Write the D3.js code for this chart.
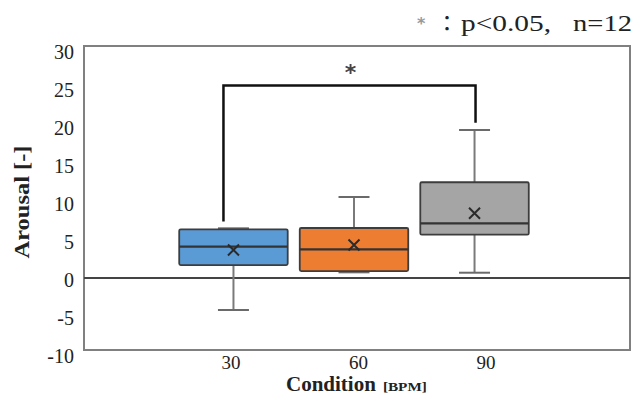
<!DOCTYPE html>
<html>
<head>
<meta charset="utf-8">
<script src="https://cdn.jsdelivr.net/npm/d3@7"></script>
<style>
  body { margin: 0; background: #fff; }
  svg { display: block; }
</style>
</head>
<body>
<div id="chart"></div>
<script>
// conditions and box plot statistics
const conditions = ["30", "60", "90"];
const boxColors = ["#5b9bd5", "#ed7d31", "#a5a5a5"];
const whiskerLow = [-4.74, 0.22, 0.17];
const q1 = [1.18, 0.39, 5.17];
const median = [3.59, 3.25, 6.67];
const q3 = [5.88, 6.05, 12.07];
const whiskerHigh = [6.01, 10.13, 18.95];
const means = [3.16, 3.82, 7.99];
const yTicks = [-10, -5, 0, 5, 10, 15, 20, 25, 30];

// significance bracket between 30 and 90 BPM
const bracketTop = 24.8;
const bracketLeftEnd = 6.9;
const bracketRightEnd = 19.9;

const serif = "'Times New Roman', 'Liberation Serif', serif";
const width = 635, height = 398;
const margin = {top: 46, right: 5, bottom: 48, left: 84};

const svg = d3.select("#chart").append("svg")
    .attr("width", width)
    .attr("height", height)
    .style("font-family", serif);

const y = d3.scaleLinear()
    .domain([-10, 30])
    .range([height - margin.bottom, margin.top]);

// boxes and tick labels are placed slightly differently in the original
const xBox = d3.scalePoint()
    .domain(conditions)
    .range([margin.left, width - margin.right - 6])
    .padding(1.24);

const xLabel = d3.scalePoint()
    .domain(conditions)
    .range([margin.left + 3, width - margin.right])
    .padding(1.13);

const boxW = xBox.step() * 0.9;
const capW = 31;

// plot frame
svg.append("rect")
    .attr("x", margin.left)
    .attr("y", margin.top)
    .attr("width", width - margin.right - margin.left)
    .attr("height", height - margin.bottom - margin.top)
    .attr("fill", "none")
    .attr("stroke", "#808080")
    .attr("stroke-width", 2);

// y axis labels
const yAxis = svg.append("g")
    .attr("transform", `translate(${margin.left},0)`)
    .call(d3.axisLeft(y).tickValues(yTicks).tickSize(0).tickPadding(10)
        .tickFormat(d => String(d)));
yAxis.attr("font-family", null).attr("font-size", null);
yAxis.select(".domain").remove();
yAxis.selectAll("text")
    .attr("dy", "0.62em")
    .attr("fill", "#222")
    .style("font-family", serif)
    .style("font-size", "20px");

// horizontal axis line near 0
svg.append("line")
    .attr("x1", margin.left)
    .attr("x2", width - margin.right)
    .attr("y1", y(0) + 4)
    .attr("y2", y(0) + 4)
    .attr("stroke", "#444")
    .attr("stroke-width", 2);

// x tick labels
svg.append("g")
    .selectAll("text")
    .data(conditions)
    .join("text")
    .attr("x", d => xLabel(d))
    .attr("y", height - margin.bottom + 19)
    .attr("text-anchor", "middle")
    .attr("fill", "#222")
    .style("font-size", "19px")
    .text(d => d);

// boxes
const box = svg.append("g")
    .selectAll("g")
    .data(conditions)
    .join("g");

box.append("line")
    .attr("x1", d => xBox(d))
    .attr("x2", d => xBox(d))
    .attr("y1", (d, i) => y(whiskerLow[i]))
    .attr("y2", (d, i) => y(q1[i]))
    .attr("stroke", "#7a7a7a")
    .attr("stroke-width", 2);

box.append("line")
    .attr("x1", d => xBox(d))
    .attr("x2", d => xBox(d))
    .attr("y1", (d, i) => y(whiskerHigh[i]))
    .attr("y2", (d, i) => y(q3[i]))
    .attr("stroke", "#7a7a7a")
    .attr("stroke-width", 2);

box.append("line")
    .attr("x1", d => xBox(d) - capW / 2)
    .attr("x2", d => xBox(d) + capW / 2)
    .attr("y1", (d, i) => y(whiskerLow[i]))
    .attr("y2", (d, i) => y(whiskerLow[i]))
    .attr("stroke", "#6a6a6a")
    .attr("stroke-width", 2);

box.append("line")
    .attr("x1", d => xBox(d) - capW / 2)
    .attr("x2", d => xBox(d) + capW / 2)
    .attr("y1", (d, i) => y(whiskerHigh[i]))
    .attr("y2", (d, i) => y(whiskerHigh[i]))
    .attr("stroke", "#6a6a6a")
    .attr("stroke-width", 2);

box.append("rect")
    .attr("x", d => xBox(d) - boxW / 2)
    .attr("y", (d, i) => y(q3[i]))
    .attr("width", boxW)
    .attr("height", (d, i) => y(q1[i]) - y(q3[i]))
    .attr("rx", 1.5)
    .attr("fill", (d, i) => boxColors[i])
    .attr("stroke", "#3d3d3d")
    .attr("stroke-width", 1.8);

box.append("line")
    .attr("x1", d => xBox(d) - boxW / 2)
    .attr("x2", d => xBox(d) + boxW / 2)
    .attr("y1", (d, i) => y(median[i]))
    .attr("y2", (d, i) => y(median[i]))
    .attr("stroke", "#333")
    .attr("stroke-width", 2.2);

// mean markers
const m = 5.5;
box.append("path")
    .attr("d", (d, i) => {
        const cx = xBox(d), cy = y(means[i]);
        return `M${cx - m},${cy - m}L${cx + m},${cy + m}M${cx - m},${cy + m}L${cx + m},${cy - m}`;
    })
    .attr("stroke", "#2a2a2a")
    .attr("stroke-width", 2)
    .attr("fill", "none");

// significance bracket
const bx1 = xBox("30") - 10, bx2 = xBox("90") + 1;
svg.append("path")
    .attr("d", `M${bx1},${y(bracketLeftEnd)}V${y(bracketTop)}H${bx2}V${y(bracketRightEnd)}`)
    .attr("fill", "none")
    .attr("stroke", "#111")
    .attr("stroke-width", 2.5);

svg.append("text")
    .attr("x", (bx1 + bx2) / 2 + 1)
    .attr("y", y(bracketTop) - 6)
    .attr("text-anchor", "middle")
    .style("font-family", "DejaVu Sans")
    .style("font-size", "22px")
    .style("font-weight", "bold")
    .style("fill", "#444")
    .text("*");

// note in the top right
svg.append("text")
    .attr("x", 417)
    .attr("y", 29)
    .style("font-family", "DejaVu Sans")
    .style("font-size", "16px")
    .style("font-weight", "bold")
    .style("fill", "#999")
    .text("*");
svg.append("text")
    .attr("x", 436)
    .attr("y", 31)
    .attr("fill", "#222")
    .style("font-family", "Noto Sans CJK JP")
    .style("font-size", "22px")
    .text("：");
svg.append("text")
    .attr("x", 461)
    .attr("y", 31)
    .attr("fill", "#222")
    .attr("textLength", 90)
    .attr("lengthAdjust", "spacingAndGlyphs")
    .style("font-size", "24px")
    .text("p<0.05,");
svg.append("text")
    .attr("x", 573)
    .attr("y", 31)
    .attr("fill", "#222")
    .attr("textLength", 59)
    .attr("lengthAdjust", "spacingAndGlyphs")
    .style("font-size", "24px")
    .text("n=12");

// axis titles
svg.append("text")
    .attr("transform", `translate(29,${(margin.top + height - margin.bottom) / 2 + 4}) rotate(-90)`)
    .attr("text-anchor", "middle")
    .attr("fill", "#222")
    .style("font-size", "20px")
    .style("font-weight", "bold")
    .attr("textLength", 113)
    .attr("lengthAdjust", "spacingAndGlyphs")
    .text("Arousal [-]");

const xt = svg.append("text")
    .attr("x", 286)
    .attr("y", height - 7)
    .attr("fill", "#222");
xt.append("tspan")
    .style("font-size", "21px")
    .style("font-weight", "bold")
    .text("Condition");
xt.append("tspan")
    .attr("dx", 7)
    .attr("textLength", 44)
    .attr("lengthAdjust", "spacingAndGlyphs")
    .style("font-size", "13px")
    .style("font-weight", "bold")
    .text("[BPM]");
</script>
</body>
</html>
